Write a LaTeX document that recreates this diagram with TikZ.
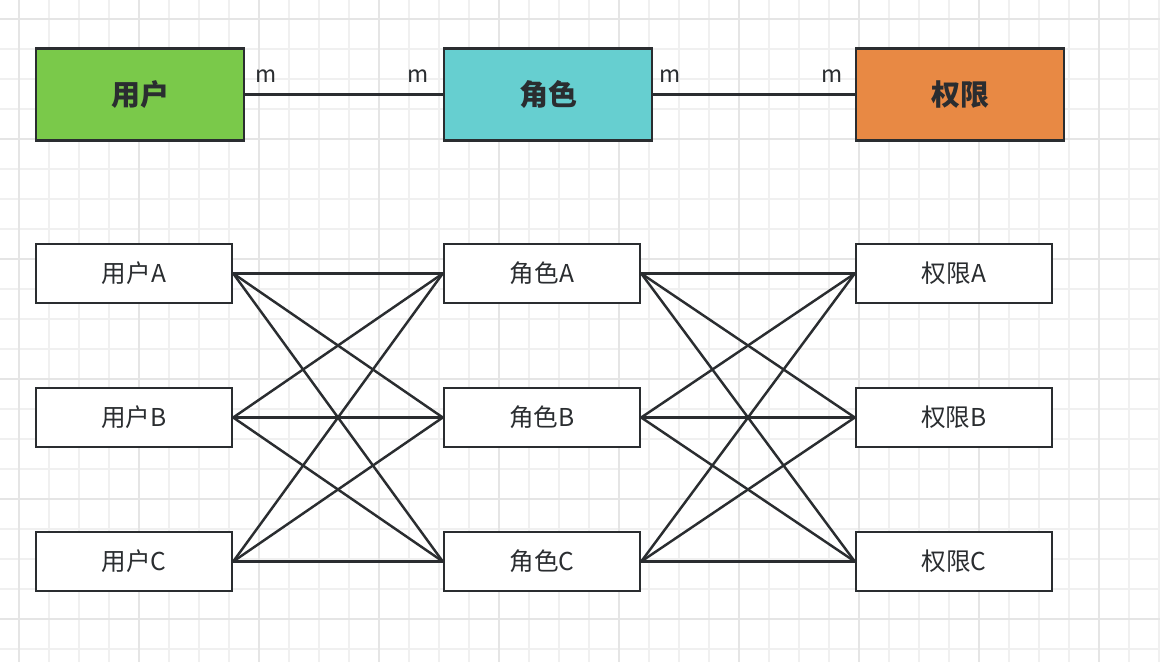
\documentclass[tikz,border=0pt]{standalone}
\usepackage{fontspec}
\setmainfont{Noto Sans CJK SC}
\usepackage{tikz}

\definecolor{usergreen}{RGB}{122,201,74}
\definecolor{rolecyan}{RGB}{102,207,208}
\definecolor{permorange}{RGB}{232,137,68}
\definecolor{boxline}{RGB}{42,45,48}

\tikzset{
  bigbox/.style={draw=boxline, line width=1.4pt, minimum width=4.16cm, minimum height=1.84cm,
    font=\fontsize{16.5}{18}\selectfont\bfseries, text=boxline},
  smallbox/.style={draw=boxline, line width=1.4pt, fill=white, minimum width=3.92cm, minimum height=1.18cm,
    font=\fontsize{14}{16}\selectfont, text=boxline},
  link/.style={draw=boxline, line width=1.4pt},
  mult/.style={font=\fontsize{13}{15}\selectfont, text=boxline}
}

\begin{document}
\begin{tikzpicture}[x=0.02cm, y=-0.02cm]
\useasboundingbox (0,0) rectangle (1160,662);
\fill[white] (0,0) rectangle (1160,662);

% grid
\foreach \gx in {19,49,...,1159} \draw[black!6, line width=0.8pt] (\gx,0) -- (\gx,662);
\foreach \gy in {19,49,...,661} \draw[black!6, line width=0.8pt] (0,\gy) -- (1160,\gy);
\foreach \gx in {19,139,...,1159} \draw[black!10, line width=0.8pt] (\gx,0) -- (\gx,662);
\foreach \gy in {19,139,...,661} \draw[black!10, line width=0.8pt] (0,\gy) -- (1160,\gy);

% top row
\node[bigbox, fill=usergreen] (user) at (140,94.5) {用户};
\node[bigbox, fill=rolecyan] (role) at (548,94.5) {角色};
\node[bigbox, fill=permorange] (perm) at (960,94.5) {权限};

\draw[link] (user.east) -- (role.west);
\draw[link] (role.east) -- (perm.west);

\node[mult] (m1) at (266,76) {m};
\node[mult] (m2) at (418,76) {m};
\node[mult] (m3) at (670,76) {m};
\node[mult] (m4) at (832,76) {m};

% users
\node[smallbox] (userA) at (134,273.5) {用户A};
\node[smallbox] (userB) at (134,417.5) {用户B};
\node[smallbox] (userC) at (134,561.5) {用户C};

% roles
\node[smallbox] (roleA) at (542,273.5) {角色A};
\node[smallbox] (roleB) at (542,417.5) {角色B};
\node[smallbox] (roleC) at (542,561.5) {角色C};

% permissions
\node[smallbox] (permA) at (954,273.5) {权限A};
\node[smallbox] (permB) at (954,417.5) {权限B};
\node[smallbox] (permC) at (954,561.5) {权限C};

% every user to every role, every role to every permission
\foreach \a in {A,B,C}
  \foreach \b in {A,B,C} {
    \draw[link] (user\a.east) -- (role\b.west);
    \draw[link] (role\a.east) -- (perm\b.west);
  }

\end{tikzpicture}
\end{document}
